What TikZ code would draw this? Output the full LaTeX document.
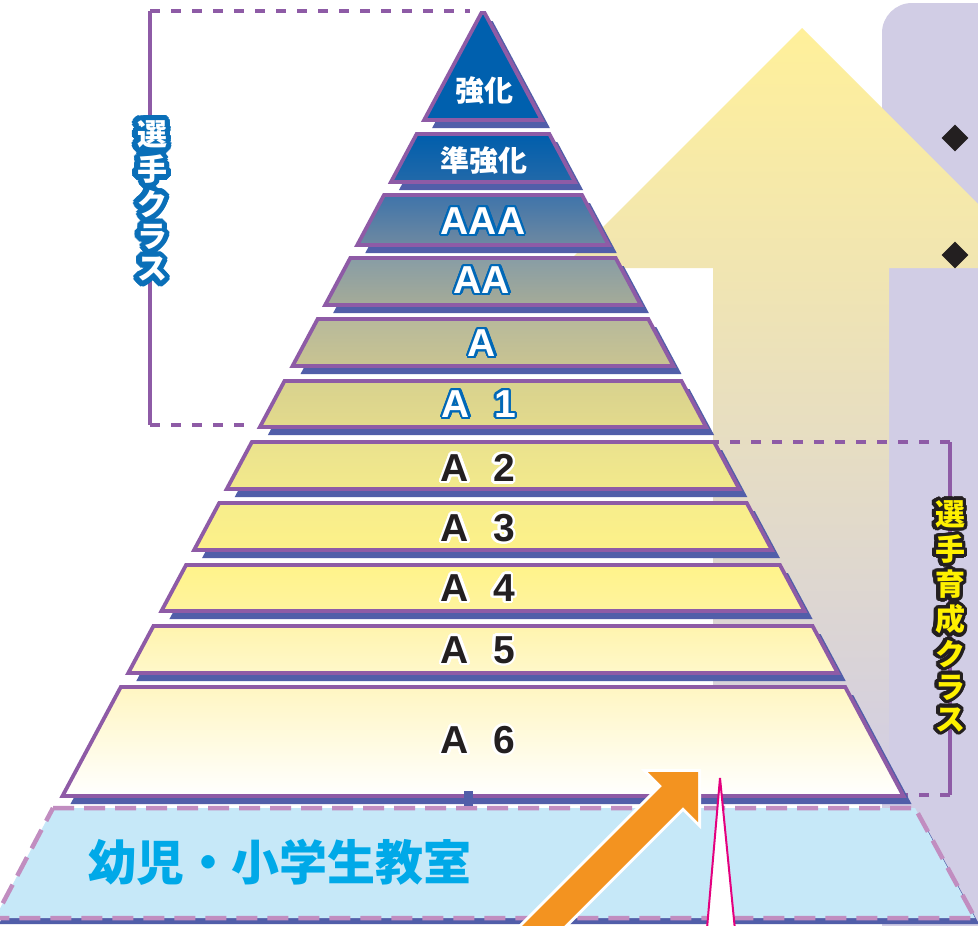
\documentclass[tikz,border=0pt]{standalone}
\usepackage{fontspec}
\setmainfont{Liberation Sans}
\newfontfamily\jp{Noto Sans CJK JP}
\usetikzlibrary{calc,shapes.geometric}
\definecolor{lav}{HTML}{D1CDE5}
\definecolor{pur}{HTML}{8E5BA6}
\definecolor{shb}{HTML}{515EA9}
\definecolor{ink}{HTML}{231F20}
\definecolor{olb}{HTML}{0068B7}
\definecolor{lblblue}{HTML}{0A6FB8}
\definecolor{cyantext}{HTML}{00A9E8}
\definecolor{kidfill}{HTML}{C6E8F8}
\definecolor{kiddash}{HTML}{C18DC0}
\definecolor{orng}{HTML}{F39320}
\definecolor{mag}{HTML}{E4007F}
\definecolor{yel}{HTML}{FFF100}
\definecolor{arrtop}{HTML}{FFF09A}
\newcommand\halo[4]{%
  \foreach \hang in {0,15,...,345}{%
    \pgfmathsetmacro\hdx{#2*cos(\hang)}%
    \pgfmathsetmacro\hdy{#2*sin(\hang)}%
    \rlap{\hspace*{\hdx pt}\raisebox{\hdy pt}{\color{#1}#4}}}%
  {\color{#3}#4}}
\newcommand\vstack[1]{\renewcommand\arraystretch{1}\begin{tabular}{@{}c@{}}#1\end{tabular}}
\newcommand\layer[4]{%
  \pgfmathsetmacro\xa{483-0.535*(#1-10)}%
  \pgfmathsetmacro\xb{483+0.535*(#1-10)}%
  \pgfmathsetmacro\xc{483+0.535*(#2-10)}%
  \pgfmathsetmacro\xd{483-0.535*(#2-10)}%
  \definecolor{ltop}{HTML}{#3}\definecolor{lbot}{HTML}{#4}%
  \fill[shb] (\xa+8,#1+8) -- (\xb+8,#1+8) -- (\xc+8,#2+8) -- (\xd+8,#2+8) -- cycle;
  \draw[lay, top color=ltop, bottom color=lbot] (\xa,#1) -- (\xb,#1) -- (\xc,#2) -- (\xd,#2) -- cycle;
}
\tikzset{
  lay/.style={draw=pur, line width=3.8pt, line join=miter},
  bracketline/.style={draw=pur, line width=4pt},
  bracketdash/.style={draw=pur, line width=4pt, dash pattern=on 10pt off 11pt},
  jpl/.style={inner sep=0pt, font=\jp\bfseries\fontsize{29pt}{31pt}\selectfont, text=white},
  latA/.style={inner sep=0pt, font=\bfseries\fontsize{39pt}{40pt}\selectfont},
  vlab/.style={inner sep=0pt, font=\jp\bfseries\fontsize{30pt}{31pt}\selectfont},
  bullet/.style={diamond, fill=ink, minimum size=27pt, inner sep=0pt}
}
\begin{document}
\begin{tikzpicture}[x=1pt,y=-1pt]
\useasboundingbox (0,0) rectangle (978,926);
\fill[white] (0,0) rectangle (978,926);
% lavender panel
\fill[lav, rounded corners=30pt] (882,3) rectangle (1010,960);
% big up arrow
\shade[top color=arrtop, bottom color=lav] (713,800) -- (713,268) -- (562,268) -- (802,28) -- (1042,268) -- (889,268) -- (889,800) -- cycle;
\node[bullet] (d1) at (955,138) {};
\node[bullet] (d2) at (955,255) {};
% left bracket
\coordinate (lbt) at (150,11);
\coordinate (lbb) at (150,425);
\draw[bracketline] (lbt) -- (lbb);
\draw[bracketdash] (lbt) -- (470,11);
\draw[bracketdash] (lbb) -- (250,425);
% right bracket
\coordinate (rbt) at (950,442);
\coordinate (rbb) at (950,795);
\draw[bracketline] (rbt) -- (rbb);
\draw[bracketdash] (rbt) -- (700,442);
\draw[bracketdash] (rbb) -- (905,795);
% pyramid
\layer{13}{120}{0060AE}{0060AE}
\layer{134}{182}{005EAC}{2269A9}
\layer{195}{245}{3F74AA}{6E89A1}
\layer{258}{305}{889DA5}{A5AB98}
\layer{319}{366}{B7B99B}{C9C491}
\layer{381}{427}{D8D28E}{E3DA8C}
\layer{442}{489}{EAE28D}{F2E98C}
\layer{503}{550}{F7ED8B}{FCF18A}
\layer{565}{611}{FFF38A}{FFF39E}
\layer{626}{673}{FFF4AE}{FFF8CA}
\layer{687}{796}{FFF6C2}{FFFFFF}
% kids layer
\fill[shb] (57,814) -- (919,814) -- (979,924) -- (-1,924) -- cycle;
\draw[kiddash, line width=4.5pt, dash pattern=on 21pt off 10pt, fill=kidfill] (53,808) -- (915,808) -- (975,918) -- (-5,918) -- cycle;
\fill[shb] (464,791) rectangle (473,806);
% labels in layers
\node[jpl] (t0) at (484,91) {強化};
\node[jpl] (t1) at (484,160) {準強化};
\node[latA] (t2) at (483,221) {\halo{olb}{2.2}{white}{AAA}};
\node[latA] (t3) at (482,280) {\halo{olb}{2.2}{white}{AA}};
\node[latA] (t4) at (482,343) {\halo{olb}{2.2}{white}{A}};
\node[latA] (t5a) at (456,404) {\halo{olb}{2.2}{white}{A}};
\node[latA] (t5b) at (505,404) {\halo{olb}{2.2}{white}{1}};
\node[latA] (t6a) at (455,468) {\halo{white}{2.5}{ink}{A}};
\node[latA] (t6b) at (504,468) {\halo{white}{2.5}{ink}{2}};
\node[latA] (t7a) at (455,528) {\halo{white}{2.5}{ink}{A}};
\node[latA] (t7b) at (504,528) {\halo{white}{2.5}{ink}{3}};
\node[latA] (t8a) at (455,588) {\halo{white}{2.5}{ink}{A}};
\node[latA] (t8b) at (504,588) {\halo{white}{2.5}{ink}{4}};
\node[latA] (t9a) at (455,650) {\halo{white}{2.5}{ink}{A}};
\node[latA] (t9b) at (504,650) {\halo{white}{2.5}{ink}{5}};
\node[latA] (t10a) at (455,740) {\halo{white}{2.5}{ink}{A}};
\node[latA] (t10b) at (504,740) {\halo{white}{2.5}{ink}{6}};
\node[inner sep=0pt, font=\jp\bfseries\fontsize{48pt}{50pt}\selectfont, text=cyantext] (kids) at (280,862) {幼児・小学生教室};
% vertical labels
\node[vlab] (lbl1) at (152,205) {\halo{lblblue}{5.5}{white}{\vstack{選\\手\\ク\\ラ\\ス}}};
\node[vlab] (lbl2) at (950,620) {\halo{ink}{3.5}{yel}{\vstack{選\\手\\育\\成\\ク\\ラ\\ス}}};
% orange arrow
\fill[orng, preaction={draw=white, line width=6pt, line join=miter}] (508,940) -- (662,786) -- (648,772) -- (698,772) -- (698,822) -- (683,807) -- (550,940) -- cycle;
% magenta spike
\coordinate (sp1) at (706,940);
\coordinate (sp2) at (736,940);
\node[inner sep=0pt, minimum size=0pt] (spk) at (720,778) {};
\draw[mag, line width=2pt, fill=white, line join=miter] (sp1) -- (spk.center) -- (sp2);
\end{tikzpicture}
\end{document}
